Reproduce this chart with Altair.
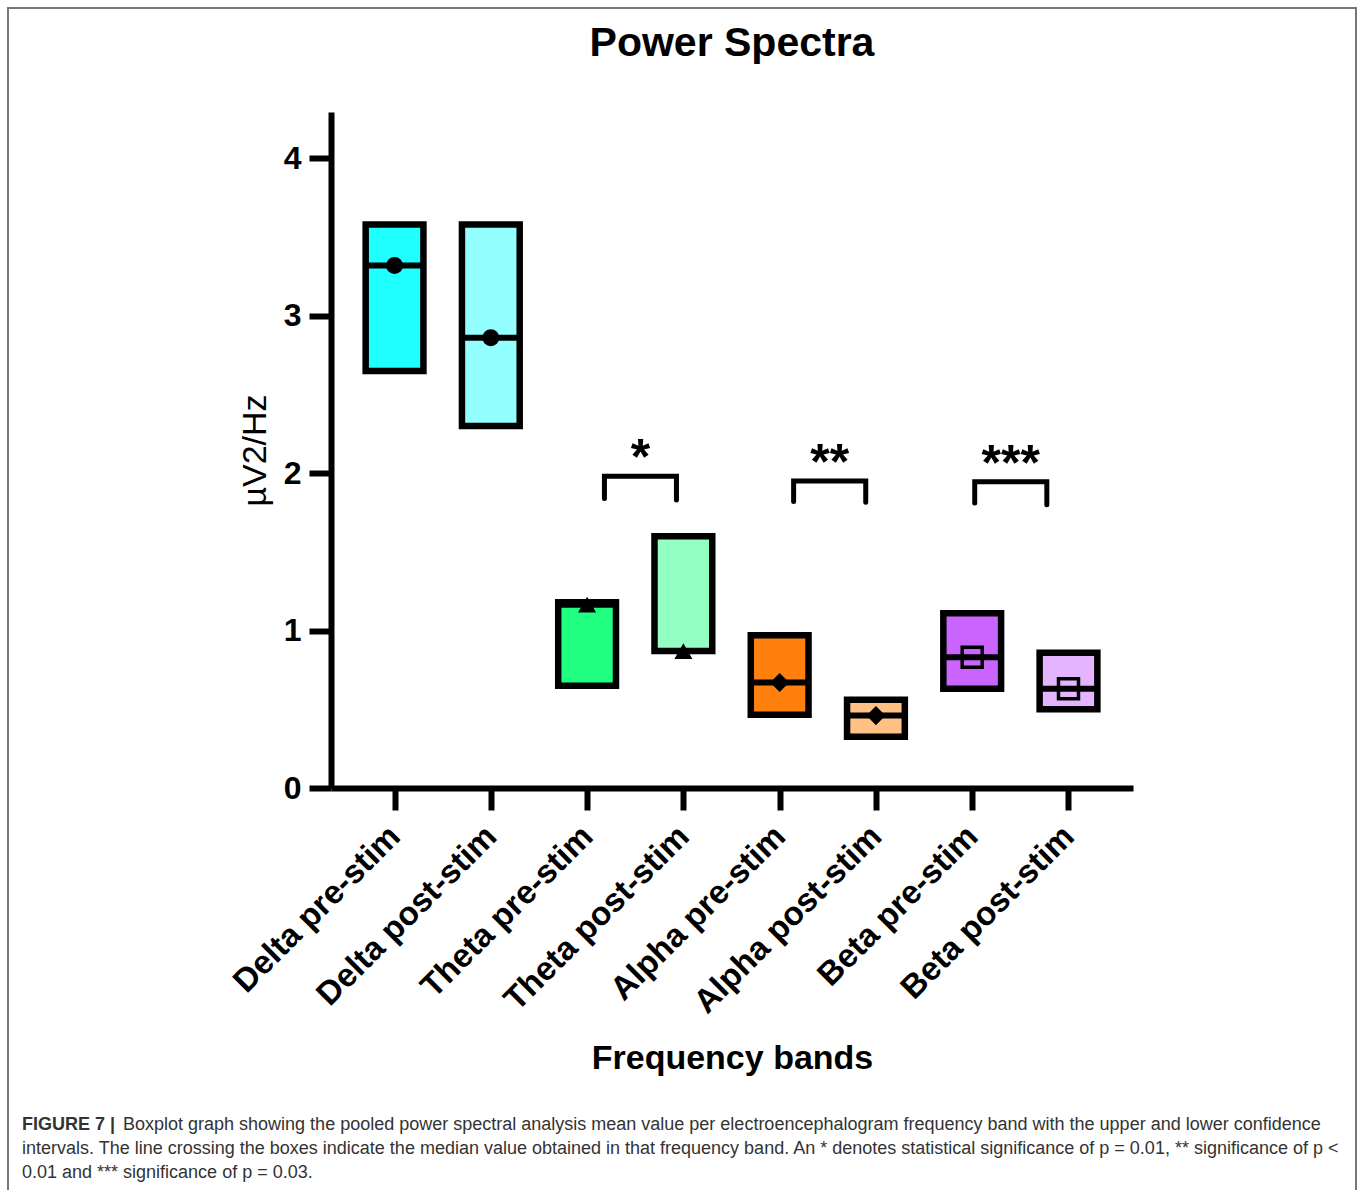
import json
import altair as alt
import pandas as pd

# ---------------- data ----------------
categories = ["Delta pre-stim", "Delta post-stim", "Theta pre-stim", "Theta post-stim",
              "Alpha pre-stim", "Alpha post-stim", "Beta pre-stim", "Beta post-stim"]
upper = [3.58, 3.58, 1.18, 1.60, 0.97, 0.56, 1.11, 0.86]
lower = [2.65, 2.30, 0.65, 0.87, 0.465, 0.325, 0.63, 0.50]
median = [3.32, 2.86, 1.165, 0.87, 0.67, 0.46, 0.83, 0.63]
colors = ["#20FFFF", "#93FFFF", "#20FF80", "#93FFC2",
          "#FF800D", "#FFC184", "#C964FF", "#E4B4FF"]
markers = ["circle", "circle", "triangle-up", "triangle-up",
           "diamond", "diamond", "square", "square"]

sig_labels = ["*", "**", "***"]
sig_left = [2.18, 4.145, 6.026]
sig_right = [2.928, 4.894, 6.775]
sig_top = [1.98, 1.95, 1.946]
sig_left_bottom = [1.84, 1.82, 1.81]
sig_right_bottom = [1.83, 1.815, 1.80]

y_ticks = [0, 1, 2, 3, 4]

caption_bold = "FIGURE 7 |"
caption_lines = [
    "Boxplot graph showing the pooled power spectral analysis mean value per electroencephalogram frequency band with the upper and lower confidence",
    "intervals. The line crossing the boxes indicate the median value obtained in that frequency band. An * denotes statistical significance of p = 0.01, ** significance of p <",
    "0.01 and *** significance of p = 0.03.",
]

FONT = "Liberation Sans"
HALF = 0.30

# ---------------- tables ----------------
df = pd.DataFrame({
    "idx": list(range(len(categories))),
    "category": categories,
    "upper": upper,
    "lower": lower,
    "median": median,
    "color": colors,
    "marker": markers,
})
df["x0"] = df["idx"] - HALF
df["x1"] = df["idx"] + HALF

rows = []
for g in range(len(sig_labels)):
    rows += [
        {"g": g, "o": 0, "bx": sig_left[g], "by": sig_left_bottom[g]},
        {"g": g, "o": 1, "bx": sig_left[g], "by": sig_top[g]},
        {"g": g, "o": 2, "bx": sig_right[g], "by": sig_top[g]},
        {"g": g, "o": 3, "bx": sig_right[g], "by": sig_right_bottom[g]},
    ]
bracket_df = pd.DataFrame(rows)
star_df = pd.DataFrame({
    "label": sig_labels,
    "sx": [(a + b) / 2 for a, b in zip(sig_left, sig_right)],
    "sy": sig_top,
})

label_expr = json.dumps(categories) + "[datum.value]"

x_scale = alt.Scale(domain=[-0.66, 7.67], nice=False, zero=False)
y_scale = alt.Scale(domain=[0, 4.295], nice=False, zero=True)

axis_common = dict(grid=False, domainColor="black", domainWidth=6, tickColor="black",
                   tickWidth=6, tickSize=22)

x_axis = alt.Axis(
    values=list(range(len(categories))), labelExpr=label_expr, title="Frequency bands",
    labelAngle=315, labelAlign="right", labelBaseline="middle", labelLimit=0,
    labelFontSize=33, labelFontWeight="bold", labelPadding=21, labelOverlap=False,
    labelFont=FONT, labelColor="black",
    titleFontSize=34, titleFontWeight="bold", titleFont=FONT, titleColor="black",
    titleY=280, titleBaseline="alphabetic", **axis_common,
)
y_axis = alt.Axis(
    values=y_ticks, title="µV2/Hz",
    labelFontSize=32, labelFontWeight="bold", labelPadding=8, labelFont=FONT,
    labelColor="black",
    titleFontSize=34, titleFontWeight="normal", titleFont=FONT, titleColor="black",
    titleX=-66, titleY=338, titleBaseline="alphabetic", titleAngle=270, **axis_common,
)

base = alt.Chart(df)

boxes = base.mark_rect(stroke="black", strokeWidth=6.5).encode(
    x=alt.X("x0:Q", scale=x_scale, axis=x_axis),
    x2="x1:Q",
    y=alt.Y("lower:Q", scale=y_scale, axis=y_axis),
    y2="upper:Q",
    fill=alt.Fill("color:N", scale=None),
)

med_rules = base.mark_rule(strokeWidth=6, color="black").encode(
    x=alt.X("x0:Q", scale=x_scale, axis=x_axis),
    x2="x1:Q",
    y=alt.Y("median:Q", scale=y_scale, axis=y_axis),
)

size_scale = alt.Scale(domain=["circle", "triangle-up", "diamond", "square"],
                       range=[289, 400, 240, 324])

filled_pts = base.transform_filter("datum.marker != 'square'").mark_point(
    filled=True, color="black", opacity=1).encode(
    x=alt.X("idx:Q", scale=x_scale, axis=x_axis),
    y=alt.Y("median:Q", scale=y_scale, axis=y_axis),
    shape=alt.Shape("marker:N", scale=None),
    size=alt.Size("marker:N", scale=size_scale, legend=None),
)

hollow_pts = base.transform_filter("datum.marker == 'square'").mark_point(
    filled=False, color="black", strokeWidth=3.5, opacity=1).encode(
    x=alt.X("idx:Q", scale=x_scale, axis=x_axis),
    y=alt.Y("median:Q", scale=y_scale, axis=y_axis),
    shape=alt.Shape("marker:N", scale=None),
    size=alt.Size("marker:N", scale=size_scale, legend=None),
)

brackets = alt.Chart(bracket_df).mark_line(
    color="black", strokeWidth=5, strokeCap="round", strokeJoin="miter").encode(
    x=alt.X("bx:Q", scale=x_scale, axis=x_axis),
    y=alt.Y("by:Q", scale=y_scale, axis=y_axis),
    detail="g:N",
    order="o:Q",
)

stars = alt.Chart(star_df).mark_text(
    fontSize=50, fontWeight="bold", font=FONT, baseline="alphabetic",
    align="center", color="black", dy=-2).encode(
    x=alt.X("sx:Q", scale=x_scale, axis=x_axis),
    y=alt.Y("sy:Q", scale=y_scale, axis=y_axis),
    text="label:N",
)

dummy = alt.Chart(pd.DataFrame({"d": [0]}))
OX, OY = 331, 112

border = dummy.mark_rect(filled=False, stroke="#777777", strokeWidth=2).encode(
    x=alt.value(8 - OX), x2=alt.value(1356 - OX),
    y=alt.value(8 - OY), y2=alt.value(1200 - OY),
)

cap_style = dict(font=FONT, fontSize=18, color="#333333", align="left", baseline="alphabetic")
cap0 = dummy.mark_text(fontWeight="bold", **cap_style).encode(
    x=alt.value(22 - OX), y=alt.value(1130 - OY), text=alt.value(caption_bold))
cap1 = dummy.mark_text(**cap_style).encode(
    x=alt.value(123 - OX), y=alt.value(1130 - OY), text=alt.value(caption_lines[0]))
cap2 = dummy.mark_text(**cap_style).encode(
    x=alt.value(22 - OX), y=alt.value(1154 - OY), text=alt.value(caption_lines[1]))
cap3 = dummy.mark_text(**cap_style).encode(
    x=alt.value(22 - OX), y=alt.value(1178 - OY), text=alt.value(caption_lines[2]))

chart = alt.layer(
    boxes, med_rules, filled_pts, hollow_pts, brackets, stars,
    border, cap0, cap1, cap2, cap3,
).properties(
    width=802, height=676,
    background="white",
    title=alt.TitleParams("Power Spectra", fontSize=41, fontWeight="bold", font=FONT,
                          anchor="middle", frame="group", offset=0, dy=90,
                          baseline="alphabetic", color="black"),
    autosize=alt.AutoSizeParams(type="none"),
    padding={"left": OX, "top": OY, "right": 1360 - OX - 802, "bottom": 1190 - OY - 676},
).configure_view(stroke=None)

chart.save("out.html", embed_options={"renderer": "svg", "actions": False})
